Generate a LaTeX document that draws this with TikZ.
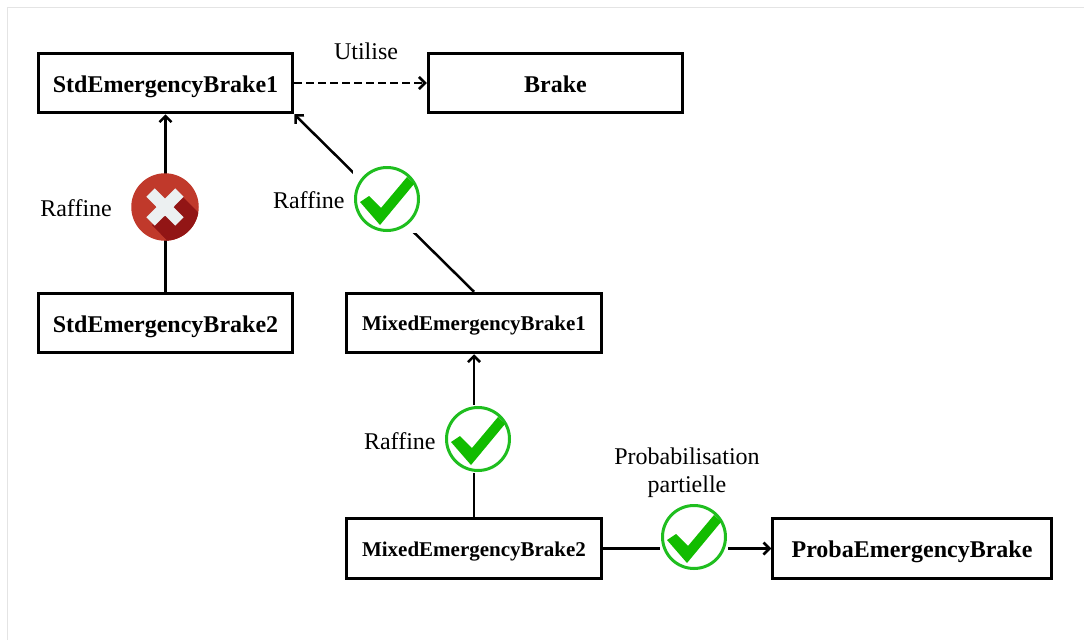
\documentclass[tikz,border=0pt]{standalone}
\usepackage{fontspec}
\setmainfont{Liberation Serif}
\usepackage{tikz}
\usetikzlibrary{arrows.meta, positioning}

\definecolor{okgreen}{HTML}{12BC00}
\definecolor{okring}{HTML}{1FBE1F}
\definecolor{kored}{HTML}{C0392B}
\definecolor{koshade}{HTML}{921515}
\definecolor{kocross}{HTML}{ECF0F1}
\definecolor{framegray}{HTML}{E4E4E4}

\begin{document}
\begin{tikzpicture}[
    x=1pt, y=-1pt,
    box/.style={draw, line width=3pt, minimum width=254.5pt, minimum height=59.5pt, text height=18pt, text depth=0pt, font=\fontsize{24}{28}\selectfont\bfseries},
    mixedbox/.style={box, text height=15pt, font=\fontsize{21}{25}\selectfont\bfseries},
    arrow/.style={-{Straight Barb[length=6pt, width=12pt]}, line width=2.5pt},
    label/.style={inner sep=0pt, align=center, font=\fontsize{24}{28}\selectfont},
    okbadge/.style={rectangle, fill=white, minimum size=68pt, inner sep=0pt, path picture={
        \begin{scope}[shift={(path picture bounding box.center)}]
            \draw[okring, line width=3pt] (0,0) circle (31.5pt);
            \fill[okgreen] (-7,26) -- (-27,3) -- (-18,-3) -- (-6,9) -- (20,-22) -- (27,-15) -- cycle;
        \end{scope}}},
    kobadge/.style={circle, fill=kored, minimum size=67.5pt, inner sep=0pt, path picture={
        \begin{scope}[shift={(path picture bounding box.center)}]
            \fill[koshade] (17,-11) -- (52,24) -- (22,54) -- (-13,18) -- cycle;
            \fill[kocross] (0,-8.5) -- (10.25,-18.7) -- (18.7,-10.25) -- (8.5,0) -- (18.7,10.25) -- (10.25,18.7) -- (0,8.5) -- (-10.25,18.7) -- (-18.7,10.25) -- (-8.5,0) -- (-18.7,-10.25) -- (-10.25,-18.7) -- cycle;
        \end{scope}}}
]
    \useasboundingbox (0,0) rectangle (1084,640);
    \draw[framegray, line width=1pt] (1084,7.5) -- (7.5,7.5) -- (7.5,640);

    \node[box] (std1) at (165.5,83) {StdEmergencyBrake1};
    \node[box, right=132.5pt of std1] (brake) {Brake};
    \node[box, below=177.5pt of std1] (std2) {StdEmergencyBrake2};
    \node[mixedbox, right=51pt of std2] (mixed1) {MixedEmergencyBrake1};
    \node[mixedbox, below=163pt of mixed1] (mixed2) {MixedEmergencyBrake2};
    \node[box, right=168.5pt of mixed2, minimum width=278.5pt] (proba) {ProbaEmergencyBrake};

    \draw[arrow, dashed, dash pattern=on 8pt off 4pt] (std1) -- (brake);
    \draw[arrow] (std2) -- (std1);
    \draw[arrow] (mixed1.north) -- (std1.south east);
    \draw[arrow] (mixed2) -- (mixed1);
    \draw[arrow] (mixed2) -- (proba);

    \node[kobadge] (nofine) at (165,207) {};
    \node[okbadge] (okfine) at (387,199) {};
    \node[okbadge] (okmixed) at (478,439) {};
    \node[okbadge] (okproba) at (694,537) {};

    \node[label] (use) at (366,51) {Utilise};
    \node[label, left=19pt of nofine, yshift=-1pt] (refno) {Raffine};
    \node[label, left=8pt of okfine, yshift=-1pt] (refok) {Raffine};
    \node[label, left=8pt of okmixed, yshift=-2pt] (refmixed) {Raffine};
    \node[label, above=5pt of okproba, xshift=-7pt] (prob) {Probabilisation\\partielle};
\end{tikzpicture}
\end{document}
